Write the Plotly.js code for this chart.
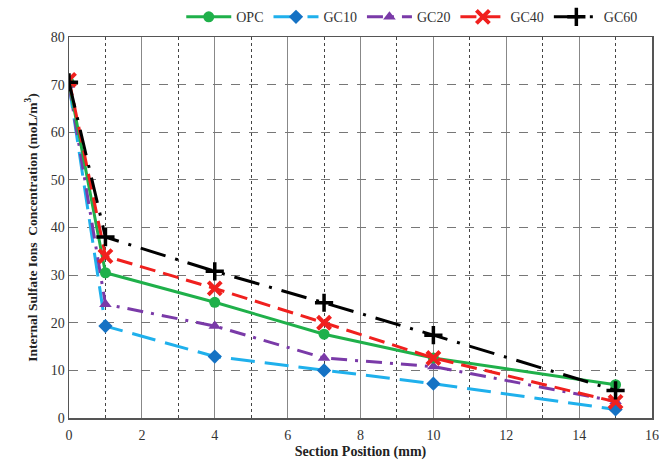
<!DOCTYPE html>
<html><head><meta charset="utf-8">
<script src="https://cdn.plot.ly/plotly-3.0.1.min.js"></script>
<style>body{margin:0;padding:0;background:#fff}#chart{width:659px;height:468px}</style>
</head><body><div id="chart"></div>
<script>
var positions = [0, 1, 4, 7, 10, 15];
var seriesNames = ["OPC", "GC10", "GC20", "GC40", "GC60"];
var opc  = [70.5, 30.5, 24.3, 17.6, 12.6, 7.0];
var gc10 = [70.0, 19.3, 12.9, 10.0, 7.2, 1.8];
var gc20 = [70.0, 23.9, 19.3, 12.6, 10.8, 3.5];
var gc40 = [71.0, 34.0, 27.2, 20.0, 12.6, 3.4];
var gc60 = [70.5, 38.0, 30.8, 24.2, 17.4, 5.8];
var xTicks = [0, 2, 4, 6, 8, 10, 12, 14, 16];
var yTicks = [0, 10, 20, 30, 40, 50, 60, 70, 80];

var styles = [
  {line:{color:'#1fb04a', width:3, dash:'solid'}, marker:{symbol:'circle', size:11, color:'#1fb04a'}},
  {line:{color:'#1fb0ec', width:3, dash:'24px,10px'}, marker:{symbol:'diamond', size:11, color:'#1572c4'}},
  {line:{color:'#7a3aa8', width:3, dash:'16px,8px,3px,8px'}, marker:{symbol:'triangle-up', size:11, color:'#7a3aa8'}},
  {line:{color:'#f0201e', width:3, dash:'16px,8px'}, marker:{symbol:'x-thin-open', size:13, color:'#f0201e', line:{width:4, color:'#f0201e'}}},
  {line:{color:'#000000', width:3, dash:'26px,10px,3px,10px'}, marker:{symbol:'cross-thin-open', size:13, color:'#000', line:{width:3.5, color:'#000'}}}
];
var vals = [opc, gc10, gc20, gc40, gc60];
var traces = vals.map(function(v, i){
  return {x: positions, y: v, name: seriesNames[i], type:'scatter', mode:'lines+markers',
    line: styles[i].line, marker: styles[i].marker, legendrank: i};
});
var order = [1,2,0,3,4];
var data = order.map(function(i){return traces[i];});

var layout = {
  width: 659, height: 468,
  margin: {l:69, r:7, t:37, b:50, autoexpand:false},
  paper_bgcolor:'#fff', plot_bgcolor:'#fff',
  font: {family:'Liberation Serif, Times New Roman, serif', color:'#333', size:14},
  showlegend: true,
  legend: {orientation:'h', x:0.985, xanchor:'right', y:1.01, yanchor:'bottom',
    font:{size:14, color:'#333'}, itemwidth:45, traceorder:'normal', bgcolor:'rgba(0,0,0,0)'},
  xaxis: {range:[0,16], tickvals: xTicks, ticktext: xTicks.map(String),
    showgrid:true, gridcolor:'#888', gridwidth:1, griddash:'solid',
    minor:{dtick:1, tick0:0, showgrid:true, gridcolor:'#444', griddash:'dot', gridwidth:1},
    showline:true, linecolor:'#555', linewidth:1.5, mirror:true, zeroline:false,
    ticks:'outside', ticklen:4, tickcolor:'rgba(0,0,0,0)', tickfont:{size:14, color:'#333'},
    title:{text:'<b>Section Position (mm)</b>', font:{size:14, color:'#222'}, standoff:4}},
  yaxis: {range:[0,80], tickvals: yTicks, ticktext: yTicks.map(String),
    showgrid:true, gridcolor:'#777', gridwidth:1.2, griddash:'dash',
    showline:true, linecolor:'#555', linewidth:1.5, mirror:true, zeroline:false,
    ticks:'', tickfont:{size:14, color:'#333'},
    title:{text:'<b>Internal Sulfate Ions  Concentration (moL/m<sup>3</sup>)</b>', font:{size:13.5, color:'#222'}, standoff:10}}
};
Plotly.newPlot('chart', data, layout, {displayModeBar:false, staticPlot:true});
</script></body></html>
